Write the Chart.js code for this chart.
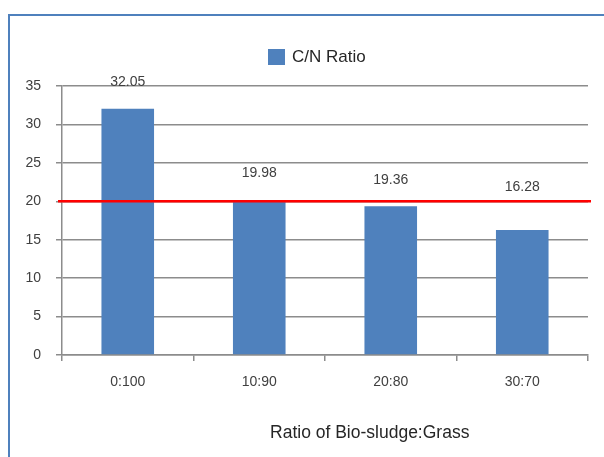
<!DOCTYPE html>
<html>
<head>
<meta charset="utf-8">
<script src="https://cdn.jsdelivr.net/npm/chart.js@4/dist/chart.umd.min.js"></script>
<style>
    html, body { margin: 0; padding: 0; background: #fff; }
    #wrap { position: relative; width: 604px; height: 457px; overflow: hidden; }
    #frame { position: absolute; left: 8px; top: 14px; width: 640px; height: 500px; border: 2px solid #4F81BD; }
    #chart { position: absolute; left: 0; top: 0; }
</style>
</head>
<body>
<div id="wrap">
    <div id="frame"></div>
    <canvas id="chart" width="604" height="457"></canvas>
</div>
<script>
// C/N ratio for each bio-sludge:grass mix
const categories = ['0:100', '10:90', '20:80', '30:70'];
const cnRatio = [32.05, 19.98, 19.36, 16.28];
const yTicks = [0, 5, 10, 15, 20, 25, 30, 35];
const targetLine = 20;

const seriesName = 'C/N Ratio';
const xTitle = 'Ratio of Bio-sludge:Grass';
const barColor = '#4F81BD';
const gridColor = '#8c8c8c';
const font = 'Liberation Sans, Arial, sans-serif';

// how far above each bar its label sits, in pixels
const labelGap = [27, 28, 26, 43];

const extras = {
    id: 'extras',
    afterDatasetsDraw(chart) {
        const c = chart.ctx;
        const area = chart.chartArea;
        const y = chart.scales.y;

        // value labels
        c.save();
        c.font = '14px ' + font;
        c.fillStyle = '#404040';
        c.textAlign = 'center';
        c.textBaseline = 'middle';
        chart.getDatasetMeta(0).data.forEach((bar, i) => {
            c.fillText(cnRatio[i].toFixed(2), bar.x, bar.y - labelGap[i]);
        });

        // red reference line
        const ry = y.getPixelForValue(targetLine);
        c.strokeStyle = '#ff0000';
        c.lineWidth = 2.5;
        c.beginPath();
        c.moveTo(area.left - 4, ry);
        c.lineTo(area.right + 3, ry);
        c.stroke();

        // legend
        c.fillStyle = barColor;
        c.fillRect(268, 49, 17, 16);
        c.font = '17px ' + font;
        c.fillStyle = '#262626';
        c.textAlign = 'left';
        c.fillText(seriesName, 292, 57);

        // x axis title
        c.font = '17.5px ' + font;
        c.textAlign = 'center';
        c.fillText(xTitle, area.left + (area.right - area.left) * 0.585, 433);
        c.restore();
    }
};

new Chart(document.getElementById('chart'), {
    type: 'bar',
    data: {
        labels: categories,
        datasets: [{
            label: seriesName,
            data: cnRatio,
            backgroundColor: barColor,
            borderWidth: 0,
            categoryPercentage: 0.4,
            barPercentage: 1
        }]
    },
    options: {
        responsive: false,
        animation: false,
        layout: {
            padding: { left: 0, top: 86, right: 16, bottom: 0 }
        },
        plugins: {
            legend: { display: false },
            tooltip: { enabled: false }
        },
        scales: {
            x: {
                grid: {
                    offset: true,
                    drawOnChartArea: false,
                    drawTicks: true,
                    tickLength: 6,
                    color: gridColor,
                    lineWidth: 1.5
                },
                border: { color: gridColor, width: 1.5 },
                ticks: {
                    padding: 13,
                    color: '#404040',
                    font: { family: font, size: 14 }
                },
                afterFit(scale) { scale.height = 102; }
            },
            y: {
                min: 0,
                max: 35,
                afterBuildTicks(scale) {
                    scale.ticks = yTicks.map(v => ({ value: v }));
                },
                grid: {
                    color: gridColor,
                    lineWidth: 1.5,
                    tickLength: 6
                },
                border: { color: gridColor, width: 1.5 },
                ticks: {
                    padding: 15,
                    color: '#404040',
                    font: { family: font, size: 14 }
                },
                afterFit(scale) { scale.width = 62; }
            }
        }
    },
    plugins: [extras]
});
</script>
</body>
</html>
